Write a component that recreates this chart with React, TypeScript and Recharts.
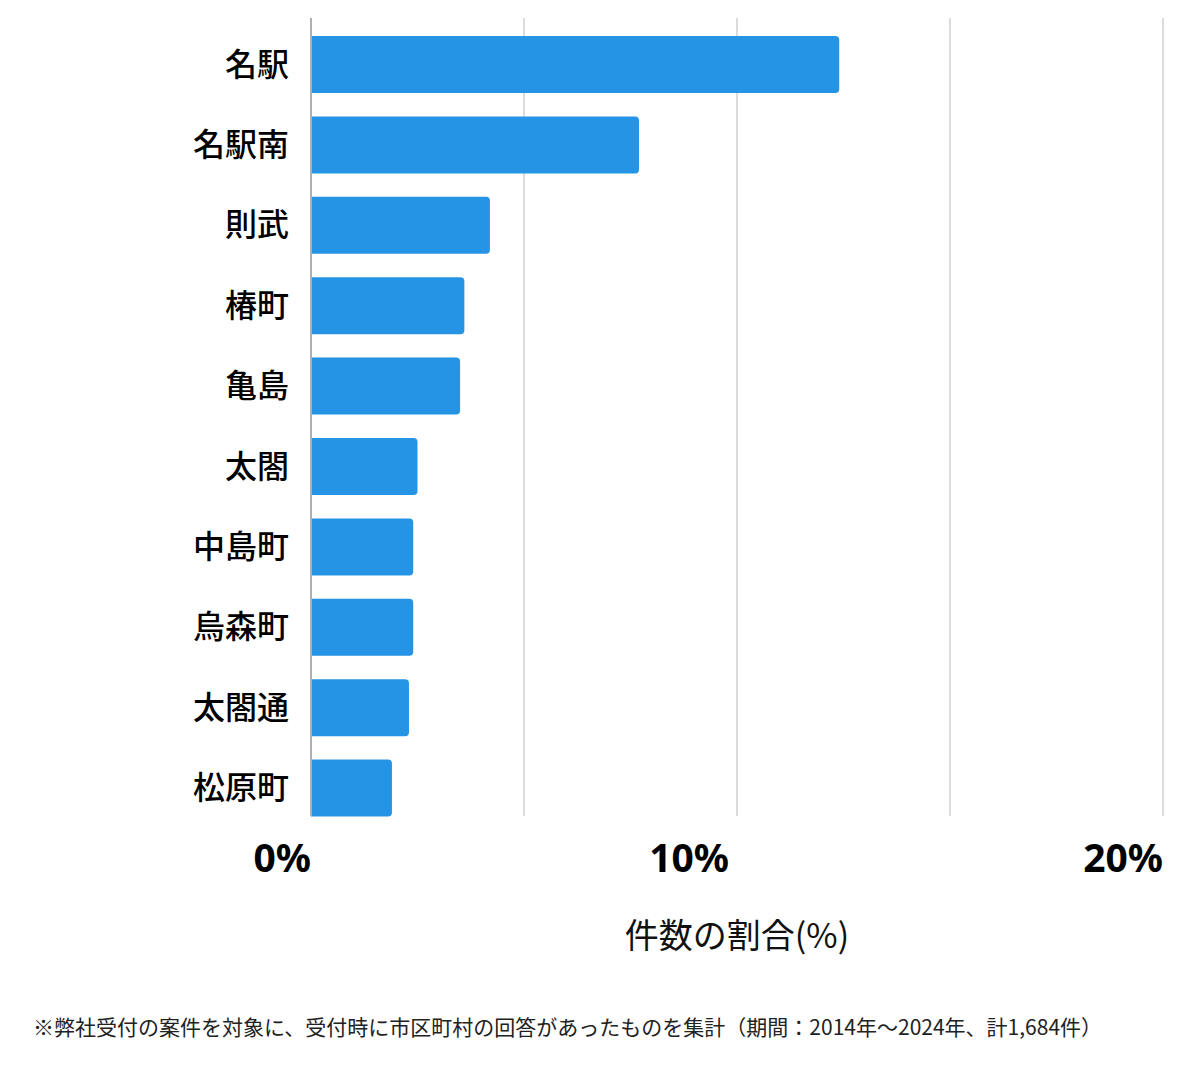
import { BarChart, Bar, XAxis, YAxis, CartesianGrid } from "recharts";

const areas = ["名駅", "名駅南", "則武", "椿町", "亀島", "太閤", "中島町", "烏森町", "太閤通", "松原町"];
const shares = [12.4, 7.7, 4.2, 3.6, 3.5, 2.5, 2.4, 2.4, 2.3, 1.9];
const xTicks = [0, 5, 10, 15, 20];
const labeledTicks = [0, 10, 20];

const data = areas.map((name, i) => ({ name, value: shares[i] }));

const JP = '"Noto Sans CJK JP", "Noto Sans", sans-serif';

// middle label sits a bit left of its gridline in the original
const XTick = (props: any) => {
  const { x, y, payload } = props;
  if (!labeledTicks.includes(payload.value)) return null;
  const nudge = payload.value === 10 ? -8 : 0;
  return (
    <text
      x={x + nudge}
      y={y}
      dy="0.71em"
      textAnchor="end"
      fontFamily='"Noto Sans", sans-serif'
      fontSize={39}
      fontWeight={700}
      fill="#000"
    >
      {payload.value}%
    </text>
  );
};

export default function App() {
  return (
    <div style={{ width: 1184, fontFamily: JP }}>
      <BarChart
        width={1184}
        height={968}
        data={data}
        layout="vertical"
        margin={{ top: 10, right: 29, bottom: 0, left: 0 }}
      >
        <CartesianGrid horizontal={false} stroke="#dcdcdc" strokeWidth={2} />
        <XAxis
          type="number"
          domain={[0, 20]}
          ticks={xTicks}
          axisLine={false}
          tickLine={false}
          tickSize={0}
          tickMargin={28}
          height={160}
          tick={<XTick />}
          label={{
            value: "件数の割合(%)",
            position: "insideBottom",
            offset: 28,
            fontSize: 34,
            fill: "#111",
            fontFamily: JP,
          }}
        />
        <YAxis
          type="category"
          dataKey="name"
          width={303}
          padding={{ top: 6, bottom: -12 }}
          axisLine={{ stroke: "#b0b0b0", strokeWidth: 2 }}
          tickLine={false}
          tickSize={0}
          tickMargin={22}
          tick={{ fontSize: 32, fontWeight: 500, fill: "#000", fontFamily: JP }}
        />
        <Bar
          dataKey="value"
          fill="#2694e4"
          barSize={57}
          radius={[0, 4, 4, 0]}
          isAnimationActive={false}
        />
      </BarChart>
      <div style={{ marginTop: 35, paddingLeft: 25, fontSize: 21, lineHeight: "31px", color: "#222" }}>
        ※弊社受付の案件を対象に、受付時に市区町村の回答があったものを集計（期間：2014年～2024年、計1,684件）
      </div>
    </div>
  );
}
